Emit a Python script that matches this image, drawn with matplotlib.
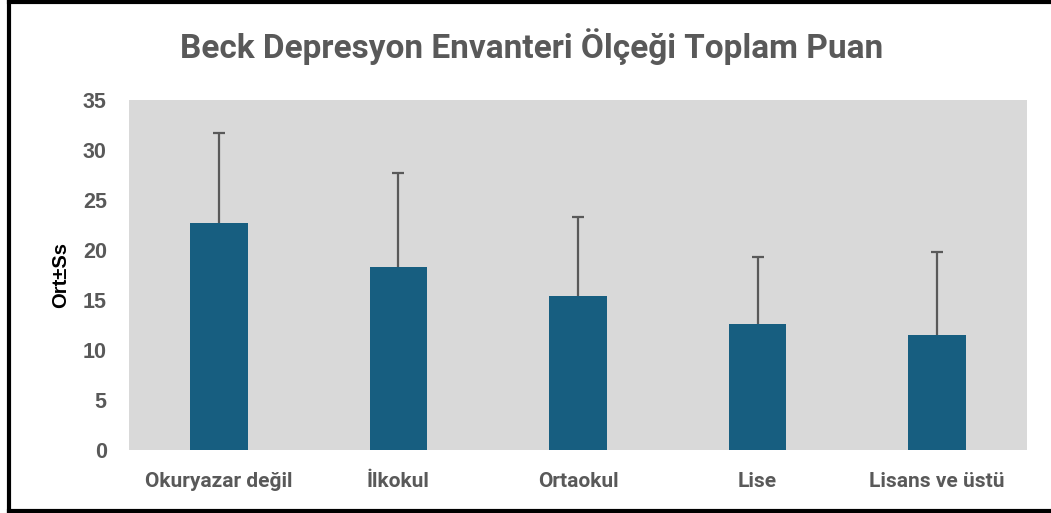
import matplotlib
matplotlib.use("Agg")
import matplotlib.pyplot as plt
from matplotlib.lines import Line2D

# data
categories = ["Okuryazar değil", "İlkokul", "Ortaokul", "Lise", "Lisans ve üstü"]
means = [22.7, 18.3, 15.4, 12.6, 11.5]
sds = [9.0, 9.4, 7.9, 6.7, 8.3]
yticks = [0, 5, 10, 15, 20, 25, 30, 35]

TITLE = "Beck Depresyon Envanteri Ölçeği Toplam Puan"
BAR_COLOR = "#175e80"
GREY = "#595959"

fig = plt.figure(figsize=(10.51, 5.13), dpi=100)
ax = fig.add_axes([129 / 1051, 63 / 513, 898 / 1051, 350 / 513])
ax.set_facecolor("#d9d9d9")

x = list(range(len(categories)))
ax.bar(x, means, width=0.32, color=BAR_COLOR, zorder=2)
eb = ax.errorbar(x, means, yerr=[[0] * len(sds), sds], fmt="none",
                 ecolor=GREY, elinewidth=1.6, capsize=4.5, capthick=1.6, zorder=3)
# only the upper half is shown, hide the cap sitting on the bar top
for cl in eb[1]:
    if list(cl.get_ydata()) == means:
        cl.set_visible(False)

ax.set_xlim(-0.5, len(categories) - 0.5)
ax.set_ylim(0, 35)
ax.set_yticks(yticks)
ax.set_yticklabels([str(t) for t in yticks], fontfamily="Liberation Sans",
                   fontweight="bold", fontsize=15.5, color=GREY)
ax.set_xticks(x)
ax.set_xticklabels(categories, fontfamily="Roboto", fontweight="bold",
                   fontsize=15, color=GREY)
ax.tick_params(axis="both", length=0)
ax.tick_params(axis="y", pad=16)
ax.tick_params(axis="x", pad=16)
for s in ax.spines.values():
    s.set_visible(False)

ax.set_ylabel("Ort±Ss", fontfamily=["Liberation Sans"], fontweight="bold",
              fontsize=14.5, color="black", labelpad=9)

fig.text(532 / 1051, 1 - 47 / 513, TITLE, ha="center", va="center",
         fontfamily="Roboto", fontweight="bold", fontsize=24, color=GREY)

# outer frame (left, top, bottom)
frame = dict(color="black", linewidth=3, transform=fig.transFigure)
fig.add_artist(Line2D([8.5 / 1051, 8.5 / 1051], [0, 1], **frame))
fig.add_artist(Line2D([8.5 / 1051, 1], [1 - 1.5 / 513, 1 - 1.5 / 513], **frame))
fig.add_artist(Line2D([8.5 / 1051, 1], [2 / 513, 2 / 513], **frame))

fig.savefig("out.png", dpi=100)
